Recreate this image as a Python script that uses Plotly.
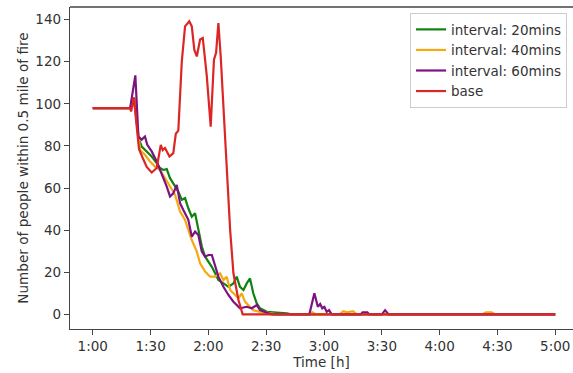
import plotly.graph_objects as go

# Time in minutes since 0:00, values = number of people within 0.5 mile of fire
t_green = [60, 79.4, 81.4, 83.7, 85.4, 87.7, 90.6, 93.2, 94.9, 96.6, 98.4, 100.1, 102.7, 104.4, 106.2,
           107.9, 109.6, 111.4, 113.1, 114.8, 116.6, 118.3, 120.0, 121.8, 123.5, 125.2, 127.8, 130.4,
           133.0, 134.7, 136.4, 138.2, 139.9, 141.6, 143.3, 145.1, 146.8, 150.3, 155.5, 160.7, 163, 300]
v_green = [98, 98, 103, 84, 79.7, 77.4, 75, 71.8, 69.5, 68.6, 69, 64.7, 60.7, 58.3, 54.4,
           55.2, 50.4, 46.4, 48, 40.1, 32.2, 27.4, 25, 22.6, 19.5, 16.3, 14.7, 13.1,
           14.7, 17.9, 13.1, 11.6, 14.7, 17.1, 10, 5.2, 2.9, 1.2, 0.8, 0.5, 0, 0]

t_orange = [60, 79.4, 81.4, 83.7, 84.6, 87.1, 89.7, 92.3, 94.9, 97.5, 100.1, 102.7, 105.3, 107.9,
            109.6, 111.4, 114.0, 115.7, 118.3, 120.9, 123.5, 126.1, 127.8, 129.5, 131.3, 133.0,
            135.6, 137.3, 139.0, 140.7, 143.3, 146.8, 150.3, 153.7, 156, 172, 174, 176,
            188, 190, 192, 195, 197, 262, 264, 267, 269, 300]
v_orange = [98, 98, 103, 83, 78, 75.8, 72.6, 70.2, 68.6, 64.7, 60.7, 56.8, 48.8, 44.9,
            40.1, 35.3, 29.8, 24.3, 20.3, 17.9, 17.9, 19.5, 16.3, 17.9, 11.6, 10,
            7.6, 10, 6, 4.4, 2, 1.2, 0.8, 0.5, 0, 0, 1, 0,
            0, 1.5, 1, 1.5, 0, 0, 1, 1, 0, 0]

t_purple = [60, 79.4, 82.1, 83.7, 85.4, 87.1, 88.3, 90.6, 93.2, 95.8, 98.4, 100.1, 101.8, 103.6,
            105.3, 107.0, 109.6, 111.4, 113.1, 114.8, 116.6, 118.3, 120.0, 121.8, 123.5, 125.2,
            127.8, 130.4, 133.0, 136.4, 139.9, 142.5, 145.1, 146.8, 150.3, 153, 172.4, 175.0,
            176.8, 178.0, 179.1, 180.2, 181.4, 182.6, 184.0, 199, 200, 202.5, 203.5, 210, 211.7,
            213.5, 300]
v_purple = [98, 98, 113.5, 84.5, 83, 84.5, 80.5, 77.4, 72.6, 67, 60.7, 56, 57.5, 61.5,
            52.8, 49.6, 44.9, 36.9, 39.3, 37.7, 29.8, 27.4, 28.2, 28.2, 22.6, 17.9,
            13.1, 9.2, 6, 2.9, 3.6, 2.9, 4.4, 2, 0.8, 0, 0, 10,
            3.6, 4.9, 2.9, 3.6, 1.2, 2, 0, 0, 1, 1, 0, 0, 2,
            0, 0]

t_base = [60, 79.4, 79.9, 81.4, 82.5, 83.7, 84.0, 85.6, 88.0, 90.6, 93.2, 95.3, 96.3, 97.5, 98.7,
          99.8, 101.8, 103.1, 104.4, 106.2, 107.9, 110.1, 111.4, 112.7, 114.0, 115.7, 117.1,
          119.2, 121.2, 122.9, 124.0, 125.2, 126.4, 128.7, 131.3, 133.0, 135.6, 137.8, 300]
v_base = [98, 98, 96.4, 103, 92, 83, 78.6, 75, 70, 67.4, 69.5, 80.5, 78, 79, 76.6,
          75, 76.6, 85.8, 87.3, 120, 136.8, 139.2, 136.8, 125.7, 122.5, 130.6, 131.3,
          113, 89.2, 121, 124.2, 138.4, 122.5, 83, 40, 19.5, 6.8, 0, 0]

series = [
    ("interval: 20mins", t_green, v_green, "#0f830f"),
    ("interval: 40mins", t_orange, v_orange, "#f5a90f"),
    ("interval: 60mins", t_purple, v_purple, "#7d1283"),
    ("base", t_base, v_base, "#dc2626"),
]

x_tickvals = [60, 90, 120, 150, 180, 210, 240, 270, 300]
x_ticktext = ["1:00", "1:30", "2:00", "2:30", "3:00", "3:30", "4:00", "4:30", "5:00"]
y_tickvals = [0, 20, 40, 60, 80, 100, 120, 140]

fig = go.Figure()
for name, t, v, c in series:
    fig.add_trace(go.Scatter(x=t, y=v, mode="lines", name=name,
                             line=dict(color=c, width=2.2)))

axis_col = "#444444"
fig.update_layout(
    width=573, height=373,
    margin=dict(l=70, r=0, t=7, b=44),
    paper_bgcolor="white", plot_bgcolor="white",
    font=dict(family="DejaVu Sans", size=13, color="#333333"),
    showlegend=True,
    legend=dict(x=0.676, y=0.981, xanchor="left", yanchor="top",
                bordercolor="#cccccc", borderwidth=1, bgcolor="rgba(255,255,255,0.8)",
                font=dict(size=13.5), itemwidth=30, tracegroupgap=0),
    xaxis=dict(range=[48.2, 309.2], tickvals=x_tickvals, ticktext=x_ticktext,
               showgrid=False, zeroline=False, showline=True, linecolor=axis_col, linewidth=1.3,
               ticks="outside", ticklen=5, tickcolor=axis_col, tickwidth=1.1,
               tickfont=dict(size=13.5),
               title=dict(text="Time [h]", standoff=3, font=dict(size=13.5))),
    yaxis=dict(range=[-6.95, 146.0], tickvals=y_tickvals,
               showgrid=False, zeroline=False, showline=True, linecolor=axis_col, linewidth=1.3,
               ticks="outside", ticklen=5, tickcolor=axis_col, tickwidth=1.1,
               tickfont=dict(size=13.5),
               title=dict(text="Number of people within 0.5 mile of fire", standoff=3,
                          font=dict(size=13.6))),
    shapes=[dict(type="line", xref="paper", yref="paper", x0=0, x1=1, y0=1, y1=1,
                 line=dict(color=axis_col, width=1.3))],
)

fig.write_html("out.html", config={"displayModeBar": False},
               post_script="document.body.style.margin='0';document.body.style.overflow='hidden';")
